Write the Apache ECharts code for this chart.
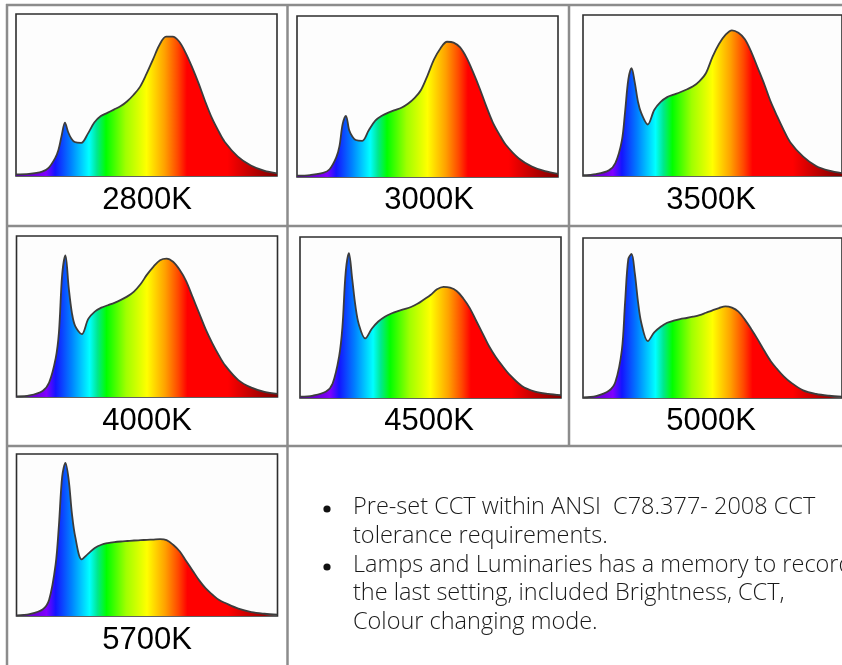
<!DOCTYPE html>
<html>
<head>
<meta charset="utf-8">
<script src="https://cdn.jsdelivr.net/npm/echarts@6/dist/echarts.min.js"></script>
<style>
  html, body { margin: 0; padding: 0; background: #fff; }
  #main { width: 842px; height: 665px; }
</style>
</head>
<body>
<div id="main"></div>
<script>
// wavelength axis (nm) shared by every spectrum
const wavelengths = [380, 400, 420, 430, 440, 445, 450, 455, 460, 465, 470, 480, 490, 500, 510, 520, 530, 540, 550, 560, 570, 580, 590, 600, 610, 620, 630, 640, 650, 660, 670, 680, 690, 700, 720, 740, 760, 780]

// relative intensity
const cct2800 = [0.01, 0.013, 0.027, 0.05, 0.11, 0.16, 0.25, 0.33, 0.27, 0.23, 0.21, 0.205, 0.26, 0.33, 0.37, 0.39, 0.41, 0.43, 0.46, 0.50, 0.55, 0.63, 0.72, 0.81, 0.86, 0.86, 0.83, 0.76, 0.67, 0.57, 0.46, 0.36, 0.28, 0.21, 0.12, 0.065, 0.033, 0.016]
const cct3000 = [0.008, 0.012, 0.025, 0.048, 0.12, 0.19, 0.33, 0.38, 0.29, 0.25, 0.23, 0.225, 0.29, 0.35, 0.38, 0.40, 0.415, 0.43, 0.455, 0.49, 0.54, 0.63, 0.73, 0.80, 0.84, 0.835, 0.805, 0.74, 0.65, 0.55, 0.44, 0.34, 0.265, 0.2, 0.115, 0.065, 0.037, 0.02]
const cct3500 = [0.005, 0.012, 0.035, 0.08, 0.22, 0.40, 0.60, 0.67, 0.58, 0.46, 0.39, 0.32, 0.41, 0.46, 0.49, 0.505, 0.52, 0.537, 0.557, 0.59, 0.64, 0.74, 0.82, 0.876, 0.905, 0.89, 0.85, 0.77, 0.67, 0.57, 0.46, 0.37, 0.285, 0.21, 0.12, 0.062, 0.033, 0.018]
const cct4000 = [0.004, 0.01, 0.038, 0.09, 0.24, 0.40, 0.76, 0.88, 0.68, 0.52, 0.44, 0.39, 0.485, 0.53, 0.555, 0.57, 0.585, 0.603, 0.625, 0.655, 0.70, 0.76, 0.81, 0.85, 0.86, 0.84, 0.79, 0.72, 0.62, 0.52, 0.42, 0.335, 0.26, 0.195, 0.105, 0.058, 0.032, 0.019]
const cct4500 = [0.008, 0.015, 0.04, 0.09, 0.26, 0.44, 0.78, 0.9, 0.74, 0.57, 0.46, 0.37, 0.43, 0.475, 0.505, 0.525, 0.54, 0.552, 0.565, 0.585, 0.612, 0.64, 0.675, 0.69, 0.685, 0.665, 0.62, 0.56, 0.48, 0.4, 0.32, 0.255, 0.2, 0.15, 0.075, 0.04, 0.025, 0.017]
const cct5000 = [0.004, 0.012, 0.045, 0.1, 0.3, 0.6, 0.87, 0.9, 0.78, 0.6, 0.47, 0.355, 0.41, 0.445, 0.47, 0.483, 0.493, 0.5, 0.508, 0.518, 0.533, 0.548, 0.562, 0.573, 0.565, 0.54, 0.49, 0.43, 0.365, 0.295, 0.23, 0.18, 0.135, 0.1, 0.048, 0.025, 0.014, 0.008]
const cct5700 = [0.004, 0.012, 0.04, 0.1, 0.32, 0.56, 0.86, 0.945, 0.84, 0.63, 0.49, 0.35, 0.385, 0.42, 0.44, 0.45, 0.456, 0.46, 0.463, 0.466, 0.468, 0.47, 0.472, 0.474, 0.468, 0.44, 0.4, 0.34, 0.28, 0.22, 0.17, 0.133, 0.1, 0.08, 0.045, 0.024, 0.014, 0.008]

const labels = ['2800K', '3000K', '3500K', '4000K', '4500K', '5000K', '5700K']
const spectra = [cct2800, cct3000, cct3500, cct4000, cct4500, cct5000, cct5700]

const bulletLines = [
  'Pre-set CCT within ANSI  C78.377- 2008 CCT',
  'tolerance requirements.',
  'Lamps and Luminaries has a memory to record',
  'the last setting, included Brightness, CCT,',
  'Colour changing mode.'
]

// layout: chart boxes [left, top, width, height] and label centres
const boxes = [
  [16, 14, 261, 162], [297, 16, 261, 161], [583, 15, 261, 161],
  [16.5, 236, 261, 161], [300, 237, 261, 161], [583, 238, 261, 160],
  [16.5, 454, 261, 162]
]
const labelPos = [[147, 200], [429, 200], [711, 200], [147, 421], [429, 421], [711, 421], [147, 640]]

const rainbow = () => new echarts.graphic.LinearGradient(0, 0, 1, 0, [
  { offset: 0, color: '#5a00a8' },
  { offset: 0.08, color: '#7000e0' },
  { offset: 0.115, color: '#8000ff' },
  { offset: 0.15, color: '#1414ff' },
  { offset: 0.21, color: '#0080ff' },
  { offset: 0.28, color: '#00ffff' },
  { offset: 0.31, color: '#00e890' },
  { offset: 0.345, color: '#00ff00' },
  { offset: 0.42, color: '#a0ff00' },
  { offset: 0.5, color: '#ffff00' },
  { offset: 0.57, color: '#ffa000' },
  { offset: 0.62, color: '#ff4800' },
  { offset: 0.655, color: '#ff0000' },
  { offset: 0.81, color: '#ff0000' },
  { offset: 0.97, color: '#900000' },
  { offset: 1, color: '#800000' }
])

const chart = echarts.init(document.getElementById('main'), null, { renderer: 'canvas' })

const grid = []
const xAxis = []
const yAxis = []
const series = []
const graphic = []

spectra.forEach((vals, i) => {
  const b = boxes[i]
  grid.push({
    left: b[0], top: b[1], width: b[2], height: b[3],
    show: true, borderColor: '#2e2e2e', borderWidth: 1.6, backgroundColor: '#fdfdfd'
  })
  xAxis.push({
    type: 'value', gridIndex: i, min: 380, max: 780,
    axisLine: { show: false }, axisTick: { show: false }, axisLabel: { show: false }, splitLine: { show: false }
  })
  yAxis.push({
    type: 'value', gridIndex: i, min: 0, max: 1,
    axisLine: { show: false }, axisTick: { show: false }, axisLabel: { show: false }, splitLine: { show: false }
  })
  series.push({
    type: 'line', xAxisIndex: i, yAxisIndex: i,
    data: wavelengths.map((w, k) => [w, vals[k]]),
    smooth: 0.33, symbol: 'none',
    lineStyle: { color: '#3c3c3c', width: 1.8 },
    areaStyle: { color: rainbow(), opacity: 1 },
    silent: true
  })
  graphic.push({
    type: 'text', x: labelPos[i][0], y: labelPos[i][1],
    style: {
      text: labels[i], font: '31px "Liberation Sans", Arial, sans-serif', fill: '#000',
      textAlign: 'center', textVerticalAlign: 'middle'
    }
  })
})

// table rules
const rule = '#8c8c8c'
const seg = (x1, y1, x2, y2) => ({ type: 'line', shape: { x1, y1, x2, y2 }, style: { stroke: rule, lineWidth: 2.5 } })
graphic.push(seg(6, 5, 842, 5), seg(6, 226, 842, 226), seg(6, 446, 842, 446))
graphic.push(seg(7, 4, 7, 665), seg(287.5, 4, 287.5, 665), seg(569, 4, 569, 446))

// bullet text
const lineY = [507, 536, 565, 593, 622]
bulletLines.forEach((t, i) => {
  graphic.push({
    type: 'text', x: 353, y: lineY[i],
    style: { text: t, font: '300 23.5px "Open Sans", Lato, sans-serif', fill: '#1a1a1a', textAlign: 'left', textVerticalAlign: 'middle' }
  })
})
graphic.push({ type: 'circle', shape: { cx: 327, cy: 509, r: 3.6 }, style: { fill: '#111' } })
graphic.push({ type: 'circle', shape: { cx: 327, cy: 567, r: 3.6 }, style: { fill: '#111' } })

chart.setOption({
  animation: false,
  grid: grid,
  xAxis: xAxis,
  yAxis: yAxis,
  series: series,
  graphic: graphic
})
</script>
</body>
</html>
